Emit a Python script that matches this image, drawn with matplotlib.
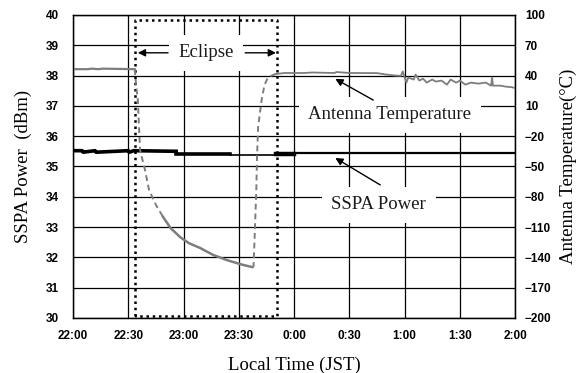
import matplotlib.pyplot as plt
import numpy as np

# time axis: minutes after 22:00
tick_minutes = [0, 30, 60, 90, 120, 150, 180, 210, 240]
tick_labels = ['22:00', '22:30', '23:00', '23:30', '0:00', '0:30', '1:00', '1:30', '2:00']

# eclipse window (minutes) and box height (dBm)
eclipse_start = 33.7
eclipse_end = 110.7
eclipse_low = 30.07
eclipse_high = 39.83

# SSPA power segments (minutes, dBm)
pwr_t1 = [0, 5, 5.5, 12, 12.5, 30, 30.5, 33, 56]
pwr_p1 = [35.52, 35.52, 35.47, 35.52, 35.47, 35.52, 35.47, 35.52, 35.5]
pwr_t2 = [56, 85]
pwr_p2 = [35.4, 35.4]
pwr_t3 = [85, 110]
pwr_p3 = [35.38, 35.38]
pwr_t4 = [110, 120]
pwr_p4 = [35.4, 35.4]
pwr_t5 = [120, 240]
pwr_p5 = [35.46, 35.46]

# antenna temperature segments (minutes, degC)
tmp_t_pre = [0, 8, 10, 14, 16, 33.5]
tmp_v_pre = [46.3, 46.3, 46.8, 46.3, 46.8, 46.3]
tmp_t_drop = [33.5, 34.3, 35.2, 36.4, 39.1, 41.3, 45, 48.9]
tmp_v_drop = [46.3, 30, 15.7, -33.8, -53.6, -73.4, -88, -100]
tmp_t_decay = [48.9, 53, 58.2, 63, 69, 76.1, 84, 92.4, 97.3]
tmp_v_decay = [-100, -111, -120, -126, -130.7, -137.6, -143, -147.5, -149.6]
tmp_t_rise = [97.3, 98.0, 98.5, 99.5, 99.9, 100.5, 102.4, 104, 106, 110]
tmp_v_rise = [-149.6, -149, -125, -74, -41, -11, 16, 31, 38.5, 41.5]
tmp_t_post = [110, 115, 125, 130, 142, 143, 150, 165, 170, 175, 178, 179, 181, 182,
              185, 186, 188, 190, 192, 195, 197, 200, 203, 205, 208, 210, 213,
              216, 220, 224, 227, 227.5, 228, 232, 235, 238, 240]
tmp_v_post = [41.5, 42.5, 42.5, 43, 42.5, 43.5, 42.5, 42.4, 41, 40, 39.7, 44, 33, 38,
              36, 41, 35, 37, 33, 36, 34, 35, 31, 36, 33, 35, 31,
              33, 32, 33, 30, 38, 30, 30, 29, 28.5, 27.7]

plt.rcParams['font.family'] = 'Liberation Sans'

fig = plt.figure(figsize=(5.84, 3.73), dpi=100)
ax = fig.add_axes([0.125, 0.1475, 0.757, 0.8125])
ax2 = ax.twinx()

ax.set_xlim(0, 240)
ax.set_ylim(30, 40)
ax2.set_ylim(-200, 100)
ax.set_xticks(tick_minutes)
ax.set_xticklabels(tick_labels)
ax.set_yticks(np.arange(30, 41, 1))
ax2.set_yticks(np.arange(-200, 101, 30))

ax.grid(True, color='black', linewidth=0.9)
for a in (ax, ax2):
    a.tick_params(length=0, labelsize=8.5)
    for lab in a.get_xticklabels() + a.get_yticklabels():
        lab.set_fontweight('bold')
ax.tick_params(axis='y', pad=10)
ax.tick_params(axis='x', pad=9)
ax2.tick_params(axis='y', pad=7)
for s in ax.spines.values():
    s.set_linewidth(1.0)

# eclipse box
ax.plot([eclipse_start, eclipse_start, eclipse_end, eclipse_end, eclipse_start],
        [eclipse_low, eclipse_high, eclipse_high, eclipse_low, eclipse_low],
        color='black', linestyle=(0, (1, 1.5)), linewidth=1.8, zorder=3)

# SSPA power
ax.plot(pwr_t1, pwr_p1, color='black', linewidth=2.6, zorder=4)
ax.plot(pwr_t2, pwr_p2, color='black', linewidth=2.6, zorder=4)
ax.plot(pwr_t3, pwr_p3, color='black', linewidth=1.2, zorder=4)
ax.plot(pwr_t4, pwr_p4, color='black', linewidth=3.2, zorder=4)
ax.plot(pwr_t5, pwr_p5, color='black', linewidth=1.6, zorder=4)

# antenna temperature
gray = '#7d7d7d'
ax2.plot(tmp_t_pre, tmp_v_pre, color=gray, linewidth=1.6)
ax2.plot(tmp_t_drop, tmp_v_drop, color=gray, linewidth=1.4, linestyle=(0, (3, 2)))
ax2.plot(tmp_t_decay, tmp_v_decay, color=gray, linewidth=1.8)
ax2.plot(tmp_t_rise, tmp_v_rise, color=gray, linewidth=1.4, linestyle=(0, (3, 2)))
ax2.plot(tmp_t_post, tmp_v_post, color=gray, linewidth=1.3)

serif = 'Liberation Serif'
txt_kw = dict(family=serif, fontsize=13.5, color='#1a1a1a', ha='center', va='center')
box_kw = dict(boxstyle='square,pad=0.5', fc='white', ec='none')
arrow_kw = dict(arrowstyle='-|>', color='black', lw=1.0, mutation_scale=11, shrinkA=0, shrinkB=0)

# annotations (placed in dBm coordinates on the left axis)
ax.text((eclipse_start + eclipse_end) / 2, 38.75, 'Eclipse', bbox=box_kw, zorder=5, **txt_kw)
ax.annotate('', xy=(eclipse_start + 1.5, 38.75), xytext=(51.6, 38.75), arrowprops=arrow_kw, zorder=6)
ax.annotate('', xy=(eclipse_end - 0.5, 38.75), xytext=(93.5, 38.75), arrowprops=arrow_kw, zorder=6)

ax.text(172, 36.7, 'Antenna Temperature', bbox=box_kw, zorder=5, **txt_kw)
ax.annotate('', xy=(142.4, 37.89), xytext=(163, 37.19), arrowprops=arrow_kw, zorder=6)

ax.text(166, 33.73, 'SSPA Power', bbox=box_kw, zorder=5, **txt_kw)
ax.annotate('', xy=(142.4, 35.28), xytext=(166.8, 34.39), arrowprops=arrow_kw, zorder=6)

ax.set_xlabel('Local Time (JST)', family=serif, fontsize=13.5, labelpad=10)
ax.set_ylabel('SSPA Power  (dBm)', family=serif, fontsize=13.5, labelpad=10)
ax2.set_ylabel('Antenna Temperature(\u00b0C)', family=serif, fontsize=13.5, labelpad=6)

fig.savefig('out.png', dpi=100)
